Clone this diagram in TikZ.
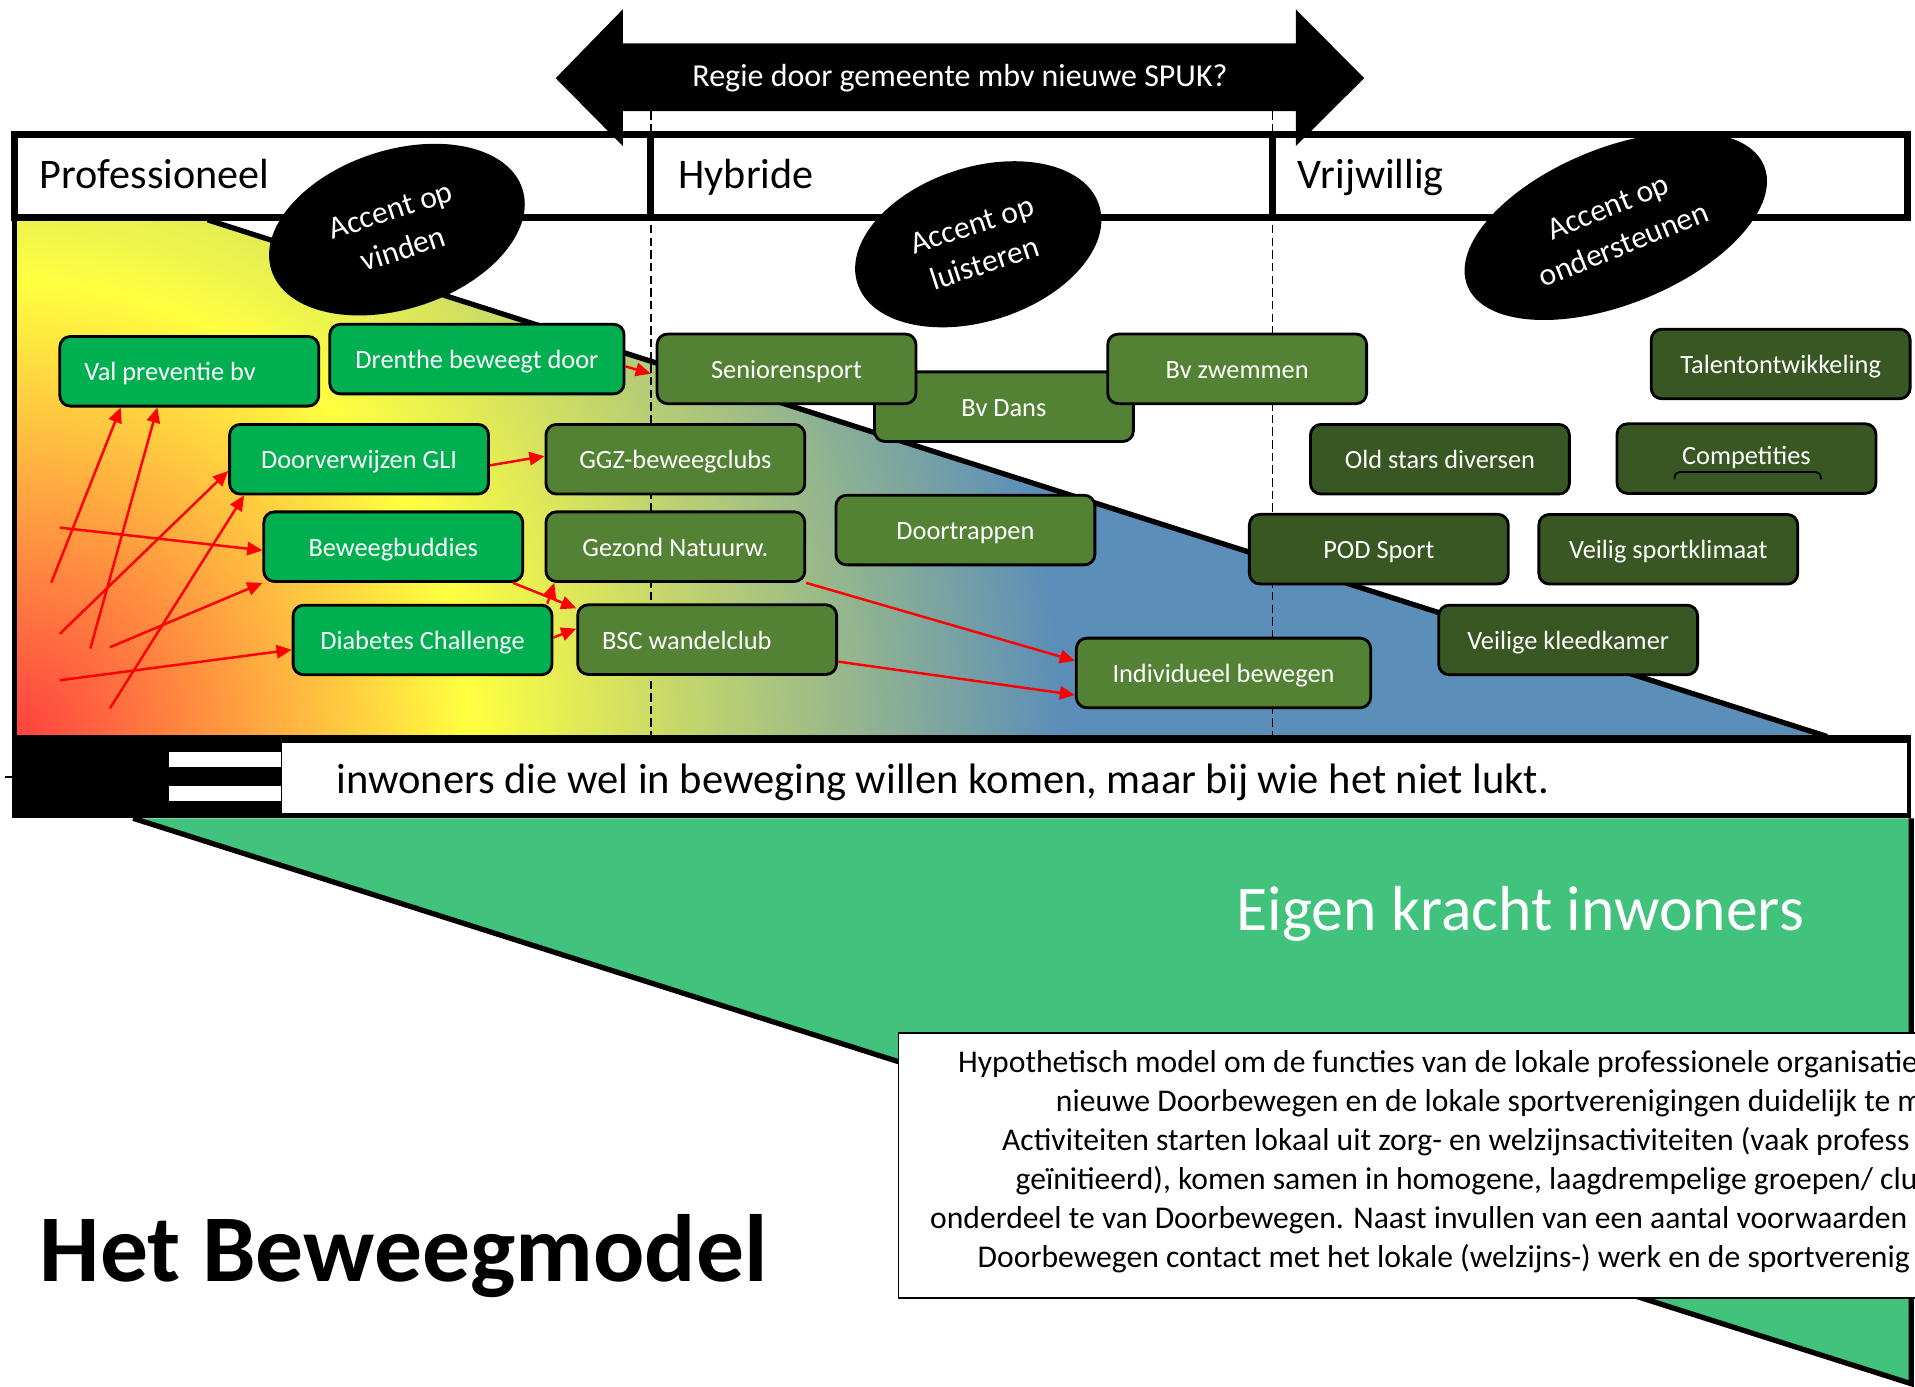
\documentclass[tikz,border=0pt]{standalone}
\usepackage{fontspec}
\setmainfont{Carlito}
\usetikzlibrary{shapes.geometric,arrows.meta,calc}
\definecolor{felgroen}{RGB}{0,176,80}
\definecolor{middengroen}{RGB}{84,130,53}
\definecolor{donkergroen}{RGB}{56,87,35}
\definecolor{zeegroen}{RGB}{66,195,125}
\definecolor{rood}{RGB}{255,64,64}
\definecolor{geel}{RGB}{255,255,64}
\definecolor{blauw}{RGB}{91,142,185}
\pgfdeclareradialshading{beweegkleur}{\pgfpoint{0bp}{0bp}}{color(0bp)=(rood); color(6.2bp)=(geel); color(14.3bp)=(blauw); color(50bp)=(blauw)}
\newcommand{\px}{0.12213mm}
\tikzset{
    blok/.style={rectangle, rounded corners=3pt, draw=black, line width=0.8pt, minimum width=212*\px, minimum height=57*\px, inner sep=0pt, text height=6pt, text depth=0.6pt, text=white, font=\fontsize{7.5}{9}\selectfont},
    prof/.style={blok, fill=felgroen},
    hybr/.style={blok, fill=middengroen},
    vrij/.style={blok, fill=donkergroen},
    accent/.style={ellipse, fill=black, inner sep=0pt, text=white, align=center, font=\fontsize{9}{11.5}\selectfont},
    pijl/.style={-{Triangle[length=4.3pt,width=3.8pt]}, red, line width=0.7pt},
    kop/.style={anchor=base west, inner sep=0pt, font=\fontsize{12}{14}\selectfont},
    regel/.style={anchor=base west, inner sep=0pt, font=\fontsize{9}{10.5}\selectfont},
    rand/.style={line width=1.5pt},
    stippel/.style={dash pattern=on 2.4pt off 1.2pt, line width=0.5pt}
}

\begin{document}
\begin{tikzpicture}[x=\px, y=-\px]
\useasboundingbox (0,0) rectangle (1568,1135);
\clip (0,0) rectangle (1568,1135);
\fill[white] (0,0) rectangle (1568,1135);

% kleurvlak
\begin{scope}
\clip (12,180) -- (170,180) -- (1496,603) -- (12,603) -- cycle;
\shade[shading=beweegkleur] (-1488,-897) rectangle (1512,2103);
\end{scope}
\draw[rand] (12,180) -- (12,603);
\draw[rand] (170,180) -- (1496,603);

% groen vlak
\fill[zeegroen] (109,670) -- (1565,1133) -- (1565,670) -- cycle;
\draw[rand] (109,670) -- (1565,1133) -- (1565,670);

\draw[stippel] (533,91) -- (533,603);
\draw[stippel] (1042,91) -- (1042,603);

% kopbalk
\draw[line width=2pt, fill=white] (12,110) rectangle (1562,178);
\draw[line width=2pt] (533,110) -- (533,178);
\draw[line width=2pt] (1042,110) -- (1042,178);
\node[kop] (professioneel) at (32,154) {Professioneel};
\node[kop] (hybride) at (555,154) {Hybride};
\node[kop] (vrijwillig) at (1062,154) {Vrijwillig};

% regie
\fill (455,64) -- (510,7.6) -- (510,35.5) -- (1061,35.5) -- (1061,7.6) -- (1117,64)
  -- (1061,119.6) -- (1061,90.9) -- (510,90.9) -- (510,119.6) -- cycle;
\node[text=white, font=\fontsize{9.1}{11}\selectfont] (regie) at (786,64) {Regie door gemeente mbv nieuwe SPUK?};

\node[accent, minimum width=216*\px, minimum height=130*\px, rotate=18] (vinden) at (325,188) {Accent op\\vinden};
\node[accent, minimum width=208*\px, minimum height=126*\px, rotate=18] (luisteren) at (801,200) {Accent op\\luisteren};
\node[accent, minimum width=262*\px, minimum height=128*\px, rotate=22] (ondersteunen) at (1323,185) {Accent op\\ondersteunen};

% balk onder
\fill (10,602) rectangle (1565,670);
\node[fill=white, inner sep=0pt, minimum width=1331*\px, minimum height=58*\px, anchor=north west] (band) at (230,607.5) {};
\fill[white] (138,615.5) rectangle (230,627.7);
\fill[white] (138,643.3) rectangle (230,655.6);
\draw[line width=0.6pt] (4,636.5) -- (12,636.5);
\node[anchor=base west, inner sep=0pt, font=\fontsize{12.1}{14}\selectfont] (inwoners) at (275,649.5) {inwoners die wel in beweging willen komen, maar bij wie het niet lukt.};

\node[anchor=base west, inner sep=0pt, text=white, font=\fontsize{18.1}{22}\selectfont] (eigenkracht) at (1012,762) {Eigen kracht inwoners};

% uitleg
\node[draw, line width=0.5pt, fill=white, minimum width=900*\px, minimum height=217*\px, anchor=north west, inner sep=0pt] (uitleg) at (735,845) {};
\node[regel] (regel1) at (784,878) {Hypothetisch model om de functies van de lokale professionele organisatie};
\node[regel] (regel2) at (864,910) {nieuwe Doorbewegen en de lokale sportverenigingen duidelijk te m};
\node[regel] (regel3) at (820,942) {Activiteiten starten lokaal uit zorg- en welzijnsactiviteiten (vaak profess};
\node[regel] (regel4) at (831,974) {geïnitieerd), komen samen in homogene, laagdrempelige groepen/ clu};
\node[regel] (regel5) at (761,1006) {onderdeel te van Doorbewegen. Naast invullen van een aantal voorwaarden};
\node[regel] (regel6) at (800,1038) {Doorbewegen contact met het lokale (welzijns-) werk en de sportverenig};

\node[anchor=base west, inner sep=0pt, font=\fontsize{27.2}{32}\selectfont\bfseries] (titel) at (32,1049.5) {Het Beweegmodel};

% blokken
\node[prof] (valpreventie) at (155,304) {\makebox[21mm][l]{Val preventie bv}};
\node[prof, minimum width=241*\px] (drenthe) at (390.5,294) {Drenthe beweegt door};
\node[hybr] (bvdans) at (822,333) {Bv Dans};
\node[hybr] (senioren) at (644,302) {Seniorensport};
\node[hybr] (zwemmen) at (1013,302) {Bv zwemmen};
\node[vrij] (talent) at (1458,298) {Talentontwikkeling};
\node[prof] (gli) at (294,376) {Doorverwijzen GLI};
\node[hybr] (ggz) at (553,376) {GGZ-beweegclubs};
\node[vrij] (oldstars) at (1179,376) {Old stars diversen};
\node[vrij, text depth=2.6pt] (competities) at (1430,375.5) {Competities};
\draw[line width=0.5pt, rounded corners=1.5pt] (1371,392.5) -- (1371,386.5) -- (1491,386.5) -- (1491,392.5);
\node[prof] (buddies) at (322,447.6) {Beweegbuddies};
\node[hybr] (gezond) at (553,447.6) {Gezond Natuurw.};
\node[hybr] (doortrappen) at (790.5,434) {Doortrappen};
\node[vrij] (pod) at (1129,449.6) {POD Sport};
\node[vrij] (klimaat) at (1366,449.7) {Veilig sportklimaat};
\node[prof] (diabetes) at (346,524) {Diabetes Challenge};
\node[hybr] (bsc) at (579,523.7) {\makebox[21mm][l]{BSC wandelclub}};
\node[hybr, minimum width=241*\px] (individueel) at (1001.8,551) {Individueel bewegen};
\node[vrij] (kleedkamer) at (1284,524) {Veilige kleedkamer};

% pijlen
\coordinate (s1) at (42,477);
\coordinate (s2) at (74,531);
\coordinate (s3) at (49,519);
\coordinate (s4) at (90,580);
\coordinate (s5) at (49,432);
\coordinate (s6) at (90,530);
\coordinate (s7) at (49,557);
\draw[pijl] (s1) -- ($(valpreventie.south west)+(51,0)$);
\draw[pijl] (s2) -- ($(valpreventie.south west)+(81,0)$);
\draw[pijl] (s3) -- ($(gli.south west)+(0,-20)$);
\draw[pijl] (s4) -- ($(gli.south west)+(13,0)$);
\draw[pijl] (s5) -- ($(buddies.west)+(0,3)$);
\draw[pijl] (s6) -- (buddies.south west);
\draw[pijl] (s7) -- ($(diabetes.west)+(0,8)$);
\draw[pijl] ($(gli.east)+(0,5)$) -- ($(ggz.west)+(0,-2.5)$);
\draw[pijl] ($(drenthe.east)+(0,6)$) -- ($(senioren.west)+(-4,4)$);
\draw[pijl] ($(buddies.south east)+(-9,0)$) -- ($(bsc.north west)+(0,4)$);
\draw[pijl] ($(diabetes.north east)+(-5,0)$) -- ($(gezond.south west)+(8,0)$);
\draw[pijl] ($(diabetes.east)+(0,-2)$) -- ($(bsc.west)+(0,-9)$);
\draw[pijl] (gezond.south east) -- ($(individueel.west)+(0,-10)$);
\draw[pijl] ($(bsc.east)+(0,18)$) -- ($(individueel.west)+(0,18)$);

\end{tikzpicture}
\end{document}
